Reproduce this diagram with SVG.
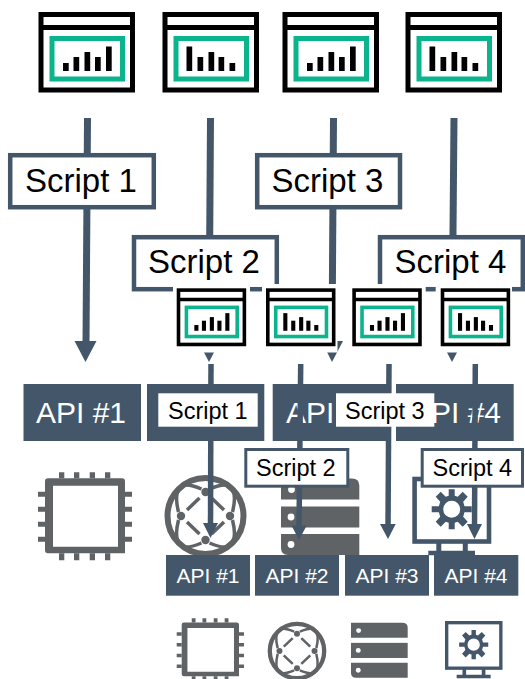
<svg xmlns="http://www.w3.org/2000/svg" width="525" height="679" viewBox="0 0 525 679">
<style>
text{font-family:"Liberation Sans",Arial,sans-serif}
.conn{stroke:#44576a;fill:none}
.big{stroke-width:7}
.small{stroke-width:5.5}
.head{fill:#44576a;stroke:none}
.sbox{fill:#fff;stroke:#44576a;stroke-width:4.5}
.sboxs{fill:#fff;stroke:#44576a;stroke-width:3}
.plain{fill:#fff}
.stxt{font-size:33px;fill:#000}
.stxts{font-size:23.5px;fill:#000}
.api{fill:#44576a}
.atxt{font-size:30px;fill:#fff;text-anchor:middle}
.atxts{font-size:21px;fill:#fff;text-anchor:middle}
.grey{fill:#5f6366}
</style>
<defs>
<g id="win">
<rect x="2.500" y="2.500" width="91.500" height="75.500" fill="#fff" stroke="#000" stroke-width="5"/>
<path d="M2.500 15.500H94" stroke="#000" stroke-width="5" fill="none"/>
<rect x="13.500" y="26.500" width="70.500" height="40.500" fill="#fff" stroke="#0bb48c" stroke-width="5"/>
</g>
<g id="barsUp" fill="#000">
<rect x="24.500" y="51" width="5.700" height="8"/><rect x="35" y="45" width="5.700" height="14"/><rect x="46" y="40" width="5.700" height="19"/><rect x="56.500" y="45" width="5.700" height="14"/><rect x="67.500" y="34.500" width="5.700" height="24.500"/>
</g>
<g id="barsDown" fill="#000">
<rect x="24" y="34.500" width="5.700" height="24.500"/><rect x="35" y="45" width="5.700" height="14"/><rect x="46" y="40" width="5.700" height="19"/><rect x="56" y="45" width="5.700" height="14"/><rect x="67" y="51" width="5.700" height="8"/>
</g>
<g id="iconUp"><use href="#win"/><use href="#barsUp"/></g>
<g id="iconDown"><use href="#win"/><use href="#barsDown"/></g>
<g id="chip" class="grey">
<path fill-rule="evenodd" d="M10 6H84Q87 6 87 9V81H10Q7 81 7 78V9Q7 6 10 6ZM15 13.500V74.500H80V13.500Z"/>
<path d="M21 0h5.300v6h-5.300zM36 0h5.300v6h-5.300zM51.700 0h5.300v6h-5.300zM67 0h5.300v6h-5.300zM21 81h5.300v7h-5.300zM36 81h5.300v7h-5.300zM51.700 81h5.300v7h-5.300zM67 81h5.300v7h-5.300zM0 19.500h7v5h-7zM0 34.500h7v5h-7zM0 49.500h7v5h-7zM0 64.500h7v5h-7zM87 19.500h7v5h-7zM87 34.500h7v5h-7zM87 49.500h7v5h-7zM87 64.500h7v5h-7z"/>
</g>
<g id="globe">
<circle r="38" fill="#fff" stroke="#5f6366" stroke-width="6"/>
<g fill="#5f6366"><circle cy="-24" r="4.200"/><circle cy="24" r="4.200"/><circle cx="-24.500" r="4.200"/><circle cx="24.500" r="4.200"/></g>
<g fill="none" stroke="#5f6366" stroke-width="3.500">
<path d="M6-18 18.500-6M-6-18-18.500-6M6 18 18.500 6M-6 18-18.500 6"/>
<path d="M-27-4Q-32-24-24-30M27-4Q32-24 24-30M-27 4Q-32 24-24 30M27 4Q32 24 24 30M-4-27Q-18-33-24-30M4-27Q18-33 24-30M-4 27Q-18 33-24 30M4 27Q18 33 24 30"/>
</g>
</g>
<g id="server">
<path class="grey" d="M0 0H71Q78.300 0 78.300 7V21H0Z"/>
<rect class="grey" y="28" width="78.300" height="21"/>
<path class="grey" d="M0 55.500H78.300V76.500H7Q0 76.500 0 69.500Z"/>
<g fill="#fff"><circle cx="10.500" cy="11" r="3.400"/><circle cx="10" cy="38.500" r="3.400"/><circle cx="10" cy="66" r="3.400"/></g>
</g>
<g id="gear" fill="#44576a">
<path fill-rule="evenodd" d="M-3-20H3V-13.500L6-12.500 11-17.500 16-12.500 11.500-7.500 12.800-3H20V3H12.800L11.500 7.500 16 12.500 11 17.500 6 12.500 3 13.500V20H-3V13.500L-6 12.500-11 17.500-16 12.500-11.500 7.500-12.800 3H-20V-3H-12.800L-11.500-7.500-16-12.500-11-17.500-6-12.500-3-13.500ZM8.500 0A8.500 8.500 0 1 0-8.500 0 8.500 8.500 0 1 0 8.500 0Z"/>
</g>
<g id="monitor">
<rect x="2.300" y="2.300" width="74.400" height="62.500" fill="#fff" stroke="#44576a" stroke-width="4.600"/>
<path d="M24 64h5v10h-5zM50.500 64h5v10h-5zM16 74h46.700v4.500H16z" fill="#44576a"/>
<use href="#gear" x="39.400" y="32.500"/>
</g>
</defs>
<rect width="525" height="679" fill="#fff"/>

<g id="connectors-overview">
<path class="conn big" d="M87.500 118 86 345"/>
<path class="conn big" d="M210.500 118 209 345"/>
<path class="conn big" d="M333.500 118 332 345"/>
<path class="conn big" d="M454 118 452 345"/>
<path class="head" d="M74.500 341H96.500L85.500 362Z"/>
<path class="head" d="M198 341H220L209 362Z"/>
<path class="head" d="M321.500 341H343L332 362Z"/>
<path class="head" d="M441 341H463L452 362Z"/>
</g>

<g id="app-1"><use href="#iconUp" x="38.500" y="12"/></g>
<g id="app-2"><use href="#iconDown" x="162.500" y="12"/></g>
<g id="app-3"><use href="#iconUp" x="282.500" y="12"/></g>
<g id="app-4"><use href="#iconDown" x="405.500" y="12"/></g>

<g id="script-1"><rect class="sbox" x="10.200" y="155.200" width="143.600" height="52"/><text class="stxt" x="25" y="192">Script 1</text></g>
<g id="script-3"><rect class="sbox" x="257.200" y="155.200" width="142.800" height="52"/><text class="stxt" x="271.500" y="192">Script 3</text></g>
<g id="script-2"><rect class="sbox" x="134" y="237.200" width="142.800" height="52"/><text class="stxt" x="148" y="273">Script 2</text></g>
<g id="script-4"><rect class="sbox" x="380" y="237.200" width="142.800" height="52"/><text class="stxt" x="394.500" y="273">Script 4</text></g>

<g id="api-1"><rect class="api" x="23.500" y="384" width="117.500" height="57"/><text class="atxt" x="81" y="423">API #1</text></g>
<g id="api-2"><rect class="api" x="147" y="384" width="117.300" height="57"/></g>
<g id="api-3"><rect class="api" x="272.700" y="384" width="118.300" height="57"/><text class="atxt" x="331" y="423">API #2</text></g>
<g id="api-4"><rect class="api" x="396" y="384" width="117.700" height="57"/><text class="atxt" x="456" y="423">API #4</text></g>

<g id="chip-large"><use href="#chip" x="38" y="472.300"/></g>
<g id="globe-large"><use href="#globe" x="205.500" y="516"/></g>
<g id="server-large"><use href="#server" x="281" y="478.500"/></g>
<g id="monitor-large"><use href="#monitor" x="412.300" y="476.700"/></g>

<g id="covers" fill="#fff">
<rect x="173" y="284" width="77" height="68.500"/>
<rect x="262" y="284" width="75.500" height="68.500"/>
<rect x="349" y="284" width="76.700" height="68.500"/>
<rect x="435.700" y="284" width="76.300" height="68.500"/>
</g>
<g id="app-small-1"><use href="#iconUp" transform="translate(176.700 288.300) scale(.72)"/></g>
<g id="app-small-2"><use href="#iconDown" transform="translate(266 288.300) scale(.72)"/></g>
<g id="app-small-3"><use href="#iconUp" transform="translate(352.300 288.300) scale(.72)"/></g>
<g id="app-small-4"><use href="#iconDown" transform="translate(440.700 288.300) scale(.72)"/></g>

<g id="connectors-detail">
<path class="conn small" d="M211 364 210.500 528"/>
<path class="conn small" d="M300.700 364 299 530"/>
<path class="conn small" d="M389 364 388 528"/>
<path class="conn small" d="M475.300 364 474.500 528"/>
<path class="head" d="M203 523H218L210.500 538Z"/>
<path class="head" d="M291.500 525.500H306.700L299 540Z"/>
<path class="head" d="M380 524H395.700L388 539Z"/>
<path class="head" d="M467 524H482L474.500 539Z"/>
</g>

<g id="script-small-1"><rect class="plain" x="158.300" y="393.300" width="99.400" height="33.400"/><text class="stxts" x="168" y="419">Script 1</text></g>
<g id="script-small-3"><rect class="plain" x="336" y="393.300" width="98.300" height="33.400"/><text class="stxts" x="345" y="419">Script 3</text></g>
<g id="script-small-2"><rect class="sboxs" x="245.800" y="449.500" width="102" height="36.700"/><text class="stxts" x="256" y="476">Script 2</text></g>
<g id="script-small-4"><rect class="sboxs" x="422.200" y="449.500" width="100.300" height="36.700"/><text class="stxts" x="432.500" y="476">Script 4</text></g>

<g id="api-small-1"><rect class="api" x="166" y="555" width="84" height="40.700"/><text class="atxts" x="208" y="583">API #1</text></g>
<g id="api-small-2"><rect class="api" x="255" y="555" width="84" height="40.700"/><text class="atxts" x="297" y="583">API #2</text></g>
<g id="api-small-3"><rect class="api" x="345" y="555" width="84" height="40.700"/><text class="atxts" x="387" y="583">API #3</text></g>
<g id="api-small-4"><rect class="api" x="434" y="555" width="84.300" height="40.700"/><text class="atxts" x="476" y="583">API #4</text></g>

<g id="chip-small"><use href="#chip" transform="translate(176.700 618.300) scale(.716)"/></g>
<g id="globe-small"><use href="#globe" transform="translate(297 651) scale(.716)"/></g>
<g id="server-small"><use href="#server" transform="translate(351 622.700) scale(.724 .72)"/></g>
<g id="monitor-small"><use href="#monitor" transform="translate(445 621) scale(.728)"/></g>
</svg>
